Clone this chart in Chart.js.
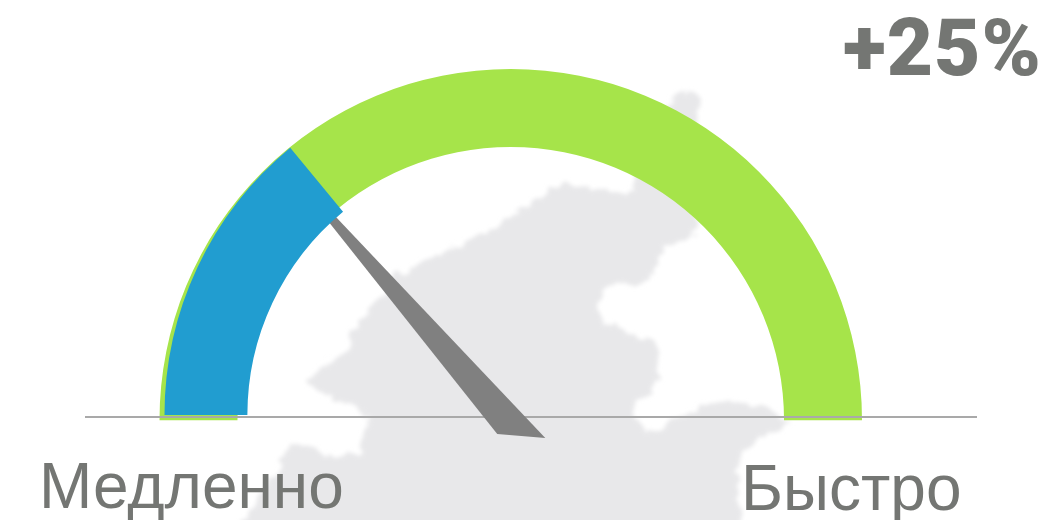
<!DOCTYPE html>
<html>
<head>
<meta charset="utf-8">
<title>Gauge</title>
<script src="https://cdn.jsdelivr.net/npm/chart.js@4/dist/chart.umd.js"></script>
<style>
  html, body { margin: 0; padding: 0; background: #fff; overflow: hidden; }
  #wrap { position: relative; width: 1051px; height: 520px; overflow: hidden; }
  #wrap svg, #wrap canvas { position: absolute; left: 0; top: 0; }
  .label {
    position: absolute;
    color: #747673;
    font-family: "Liberation Sans", Arial, sans-serif;
    font-size: 64px;
    line-height: 70px;
    white-space: nowrap;
  }
  #slow { left: 39px; top: 451px; }
  #fast { left: 741px; top: 453px; }
  #percent {
    left: 843px; top: 3px;
    font-family: Roboto, sans-serif;
    font-weight: 900;
    font-size: 80px;
    line-height: 90px;
    letter-spacing: 1px;
  }
</style>
</head>
<body>
<div id="wrap">
  <!-- map in the background, only decoration -->
  <svg width="1051" height="520">
    <filter id="soft" x="-5%" y="-5%" width="110%" height="110%">
      <feTurbulence type="fractalNoise" baseFrequency="0.09" numOctaves="2" seed="4" result="noise"/>
      <feDisplacementMap in="SourceGraphic" in2="noise" scale="14" xChannelSelector="R" yChannelSelector="G"/>
      <feGaussianBlur stdDeviation="2.2"/>
    </filter>
    <path filter="url(#soft)" fill="#e8e8ea" d="M307 383 L317 370 L347 350 L350 333 L377 300 L400 273 L447 250 L487 233
      L520 210 L563 183 L597 190 L633 193 L645 130 L665 105 L690 90 L703 100 L695 115 L700 180 L697 233 L663 247
      L650 283 L603 287 L597 317 L630 333 L657 343 L660 377 L633 410 L647 433 L683 417 L710 402 L770 408 L790 423
      L763 437 L737 457 L740 530 L235 530 L280 467 L293 443 L333 457 L360 453 L367 420 L363 410 L323 397 Z"/>
  </svg>
  <canvas id="trackChart" width="1051" height="520"></canvas>
  <canvas id="speedChart" width="1051" height="520"></canvas>
  <div class="label" id="slow"></div>
  <div class="label" id="fast"></div>
  <div class="label" id="percent"></div>
</div>

<script>
var gaugeLabels = ["Медленно", "Быстро"];
var percentLabel = "+25%";
var trackValues = [100];
var speedValues = [28, 72];

document.getElementById("slow").textContent = gaugeLabels[0];
document.getElementById("fast").textContent = gaugeLabels[1];
document.getElementById("percent").textContent = percentLabel;

// horizontal line under the arc
var baseLine = {
  id: "baseLine",
  afterDraw: function (chart) {
    var ctx = chart.ctx;
    ctx.save();
    ctx.strokeStyle = "#a9a9a9";
    ctx.lineWidth = 2;
    ctx.beginPath();
    ctx.moveTo(85, 417);
    ctx.lineTo(977, 417);
    ctx.stroke();
    ctx.restore();
  }
};

// needle follows the end of the blue arc, blue is drawn over its tip
var needle = {
  id: "needle",
  beforeDatasetsDraw: function (chart) {
    var arc = chart.getDatasetMeta(0).data[0];
    var ux = Math.cos(arc.endAngle), uy = Math.sin(arc.endAngle);
    var nx = -uy, ny = ux;
    var shape = [[-5.7, -22.9], [-39.4, 11.6], [264, -8.8], [266, -17.5]];
    var ctx = chart.ctx;
    ctx.save();
    ctx.fillStyle = "#808080";
    ctx.beginPath();
    shape.forEach(function (p, i) {
      var x = arc.x + ux * p[0] + nx * p[1];
      var y = arc.y + uy * p[0] + ny * p[1];
      if (i === 0) ctx.moveTo(x, y);
      else ctx.lineTo(x, y);
    });
    ctx.closePath();
    ctx.fill();
    ctx.restore();
  }
};

function gaugeOptions(cutout, padding) {
  return {
    responsive: false,
    animation: false,
    rotation: -90,
    circumference: 180,
    cutout: cutout,
    layout: { padding: padding },
    plugins: { legend: { display: false }, tooltip: { enabled: false } }
  };
}

new Chart(document.getElementById("trackChart"), {
  type: "doughnut",
  data: {
    labels: ["Шкала"],
    datasets: [{ data: trackValues, backgroundColor: ["#a6e44a"], borderWidth: 0 }]
  },
  options: gaugeOptions("77.8%", { left: 159.5, right: 189, top: 69, bottom: 99.75 }),
  plugins: [baseLine]
});

new Chart(document.getElementById("speedChart"), {
  type: "doughnut",
  data: {
    labels: gaugeLabels,
    datasets: [{ data: speedValues, backgroundColor: ["#219dd0", "rgba(0,0,0,0)"], borderWidth: 0 }]
  },
  options: gaugeOptions("76.1%", { left: 164.5, right: 193, top: 68.25, bottom: 105 }),
  plugins: [needle]
});
</script>
</body>
</html>
